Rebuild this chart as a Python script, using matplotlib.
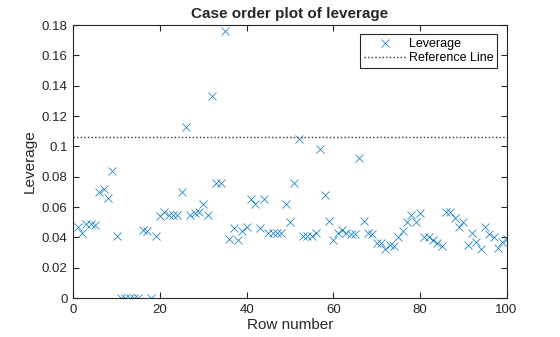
import matplotlib
matplotlib.use("Agg")
import matplotlib.pyplot as plt
from matplotlib.ticker import FuncFormatter

plt.rcParams['font.family'] = ['Liberation Sans', 'DejaVu Sans']

rows = list(range(1, 101))
leverage = [
    0.047, 0.043, 0.049, 0.049, 0.048, 0.070, 0.072, 0.066, 0.084, 0.041,
    0.0, 0.0, 0.0, 0.0, 0.0, 0.045, 0.044, 0.0, 0.041, 0.054,
    0.057, 0.055, 0.055, 0.055, 0.070, 0.113, 0.055, 0.056, 0.057, 0.062,
    0.055, 0.133, 0.076, 0.076, 0.176, 0.039, 0.046, 0.038, 0.044, 0.047,
    0.065, 0.062, 0.046, 0.065, 0.043, 0.043, 0.043, 0.043, 0.062, 0.050,
    0.076, 0.105, 0.041, 0.041, 0.041, 0.043, 0.098, 0.068, 0.051, 0.038,
    0.043, 0.045, 0.043, 0.042, 0.042, 0.092, 0.051, 0.043, 0.042, 0.036,
    0.036, 0.032, 0.035, 0.034, 0.040, 0.044, 0.050, 0.055, 0.050, 0.056,
    0.040, 0.040, 0.038, 0.036, 0.034, 0.057, 0.057, 0.053, 0.047, 0.050,
    0.035, 0.043, 0.037, 0.032, 0.047, 0.042, 0.040, 0.033, 0.037, 0.039,
]
reference = 0.1064
xticks = [0, 20, 40, 60, 80, 100]
yticks = [0, 0.02, 0.04, 0.06, 0.08, 0.1, 0.12, 0.14, 0.16, 0.18]

fig = plt.figure(figsize=(5.6, 3.37), dpi=100)
ax = fig.add_axes([0.1309, 0.1157, 0.9046 - 0.1309, 0.9258 - 0.1157])

ax.plot(rows, leverage, linestyle='none', marker='x', color='#0072BD',
        markersize=6, markeredgewidth=0.5, label='Leverage')
ax.axhline(reference, color='#333333', linestyle=(0, (1, 1.6)), linewidth=1.0,
           label='Reference Line')

ax.set_xlim(0, 100)
ax.set_ylim(0, 0.18)
ax.set_xticks(xticks)
ax.set_yticks(yticks)
ax.yaxis.set_major_formatter(FuncFormatter(lambda v, p: '%g' % round(v, 4)))
ax.tick_params(direction='in', top=True, right=True, length=4, width=0.8,
               labelsize=9.5, colors='#262626', labelcolor='#262626', pad=4)
for s in ax.spines.values():
    s.set_linewidth(0.8)
    s.set_color('#262626')

ax.set_xlabel('Row number', fontsize=11, color='#262626', labelpad=2)
ax.set_ylabel('Leverage', fontsize=11, color='#262626', labelpad=4)
ax.set_title('Case order plot of leverage', fontsize=11, fontweight='bold',
             color='#262626', pad=5)

leg = ax.legend(loc='upper right', fontsize=9, frameon=True, fancybox=False,
                edgecolor='#262626', framealpha=1, borderpad=0.3,
                handlelength=3.4, handletextpad=0.2, labelspacing=0.15,
                borderaxespad=0.75)
leg.get_frame().set_linewidth(0.8)

fig.savefig('out.png', dpi=100)
